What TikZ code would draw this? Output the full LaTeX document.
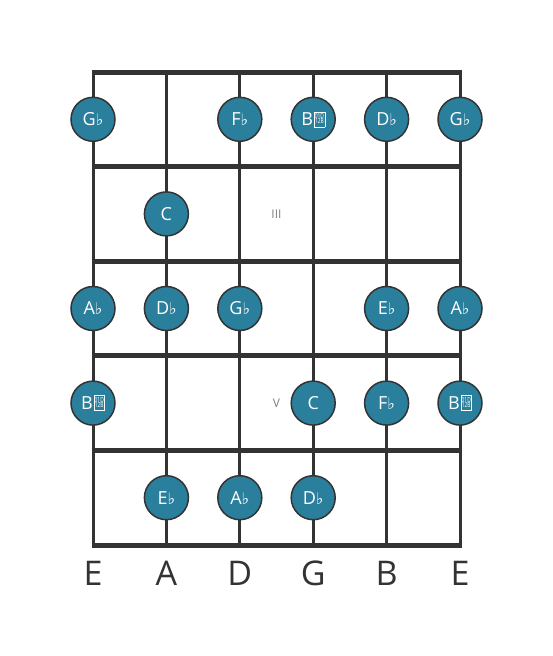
\documentclass[tikz,border=0pt]{standalone}
\usepackage{fontspec}
\usepackage{graphicx}
\setmainfont{Open Sans}
\newfontfamily\symfont{DejaVu Sans}
\usetikzlibrary{positioning}
\definecolor{noteblue}{HTML}{2A7F9C}
\definecolor{boardgrey}{HTML}{333333}
\newcommand{\fl}{{\symfont\fontsize{16}{16}\selectfont ♭}}
\newcommand{\tofu}{\kern0.8pt\raisebox{4.5pt}[0pt][0pt]{\scalebox{0.7}[1]{%
	\setlength{\fboxsep}{0.9pt}\setlength{\fboxrule}{0.7pt}%
	\fbox{\fontsize{7}{6}\selectfont\begin{tabular}{@{}c@{}}01D\\[-1.2pt]12B\end{tabular}}}}}

\begin{document}
\begin{tikzpicture}[x=1pt, y=-1pt,
	fret/.style = { draw=boardgrey, line width=5pt },
	string/.style = { draw=boardgrey, line width=3pt },
	note/.style = { circle, draw=boardgrey, line width=1.5pt, fill=noteblue,
	minimum size=44pt, inner sep=0pt, text=white, font=\fontsize{18}{20}\selectfont },
	marker/.style = { text=gray, font=\fontsize{12}{14}\selectfont },
	tuning/.style = { text=boardgrey, font=\fontsize{34}{40}\selectfont } ]

  \useasboundingbox (0,0) rectangle (553,656);

  % strings and frets
  \foreach \x in {93,166.4,239.8,313.2,386.6,460}
	\draw [string] (\x,72) -- (\x,545);
  \foreach \y in {72,166.6,261.2,355.8,450.4,545}
	\draw [fret] (91.5,\y) -- (461.5,\y);

  % fret markers
  \node [name=mark3, marker] at (276.5,213.9) { III };
  \node [name=mark5, marker] at (276.5,403.1) { V };

  % first fret
  \node [name=gb1, note] at (93,119.3) { G\fl };
  \node [name=fb1, note] at (239.8,119.3) { F\fl };
  \node [name=bbb1, note] at (313.2,119.3) { B\tofu };
  \node [name=db1, note] at (386.6,119.3) { D\fl };
  \node [name=gb6, note] at (460,119.3) { G\fl };
  % second fret
  \node [name=c2, note] at (166.4,213.9) { C };
  % third fret
  \node [name=ab1, note] at (93,308.5) { A\fl };
  \node [name=db2, note] at (166.4,308.5) { D\fl };
  \node [name=gb3, note] at (239.8,308.5) { G\fl };
  \node [name=eb5, note] at (386.6,308.5) { E\fl };
  \node [name=ab6, note] at (460,308.5) { A\fl };
  % fourth fret
  \node [name=bbb4, note] at (93,403.1) { B\tofu };
  \node [name=c4, note] at (313.2,403.1) { C };
  \node [name=fb5, note] at (386.6,403.1) { F\fl };
  \node [name=bbb6, note] at (460,403.1) { B\tofu };
  % fifth fret
  \node [name=eb2, note] at (166.4,497.7) { E\fl };
  \node [name=ab3, note] at (239.8,497.7) { A\fl };
  \node [name=db4, note] at (313.2,497.7) { D\fl };

  % tuning
  \node [name=lowe, tuning] at (93,573) { E };
  \node [name=tunea, tuning] at (166.4,573) { A };
  \node [name=tuned, tuning] at (239.8,573) { D };
  \node [name=tuneg, tuning] at (313.2,573) { G };
  \node [name=tuneb, tuning] at (386.6,573) { B };
  \node [name=highe, tuning] at (460,573) { E };
\end{tikzpicture}
\end{document}
